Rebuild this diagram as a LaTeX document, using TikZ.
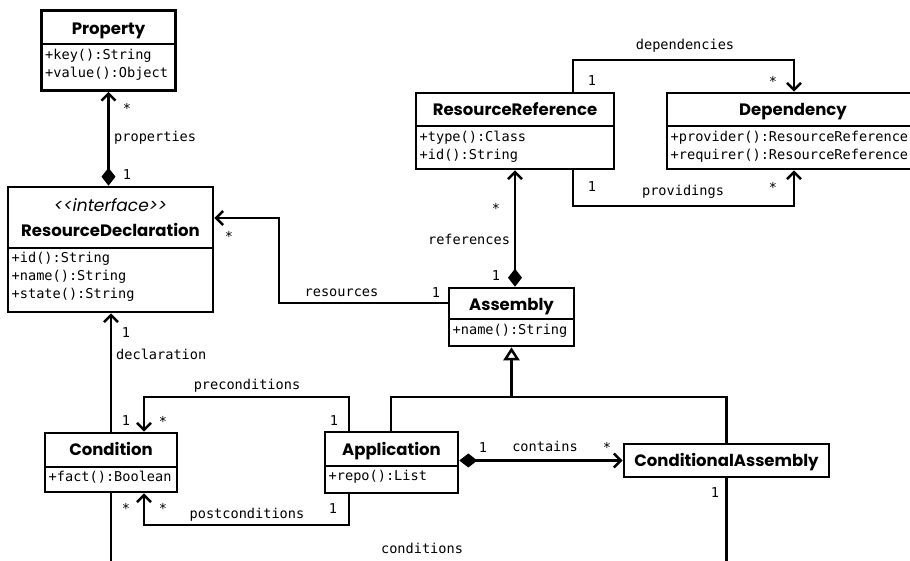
\documentclass[tikz,border=0pt]{standalone}
\usepackage{fontspec}
\usetikzlibrary{arrows.meta}
\newfontfamily\titlefont{Poppins}
\newfontfamily\codefont{DejaVu Sans Mono}
\tikzset{
  umlbox/.style={draw, line width=2.6pt, rectangle, inner sep=0pt, fill=white},
  divline/.style={line width=2pt},
  conn/.style={line width=2.5pt, line join=miter},
  ttl/.style={font=\titlefont\bfseries\fontsize{16.5}{18}\selectfont, anchor=base, inner sep=0pt},
  stereo/.style={font=\titlefont\itshape\fontsize{17}{19}\selectfont, anchor=base, inner sep=0pt},
  attr/.style={font=\codefont\fontsize{13.6}{16}\selectfont, anchor=base west, inner sep=0pt},
  lbl/.style={font=\codefont\fontsize{13.6}{16}\selectfont, anchor=base, inner sep=0pt},
  barb/.tip={Straight Barb[length=7pt,width=14pt]},
  dmd/.tip={Diamond[length=18pt,width=14pt]},
  gen/.tip={Triangle[open,length=13pt,width=16pt]}
}
\begin{document}
\begin{tikzpicture}[x=1pt,y=-1pt]
\useasboundingbox (0,0) rectangle (910,560);
\clip (0,0) rectangle (910,560);

% ---- boxes ----
\node[umlbox, minimum width=134pt, minimum height=80pt] (prop) at (108.5,50.5) {};
\node[umlbox, minimum width=205pt, minimum height=125pt] (rd) at (110.5,249.5) {};
\node[umlbox, minimum width=198pt, minimum height=76pt] (rr) at (515,131) {};
\node[umlbox, minimum width=252pt, minimum height=76pt] (dep) at (793,131) {};
\node[umlbox, minimum width=125pt, minimum height=58pt] (asm) at (511.5,317) {};
\node[umlbox, minimum width=132pt, minimum height=59pt] (cond) at (111,462.5) {};
\node[umlbox, minimum width=133pt, minimum height=61pt] (app) at (391.5,462.5) {};
\node[umlbox, minimum width=205pt, minimum height=33pt] (ca) at (726.5,460.5) {};

% ---- dividers ----
\draw[divline] (41.5,44) -- (175.5,44);
\draw[divline] (8,248) -- (213,248);
\draw[divline] (416,126) -- (614,126);
\draw[divline] (667,126) -- (919,126);
\draw[divline] (449,319) -- (574,319);
\draw[divline] (45,467) -- (177,467);
\draw[divline] (325,466) -- (458,466);

% ---- titles ----
\node[ttl] (propT) at (108.5,34) {Property};
\node[stereo] (rdS) at (110.5,211) {<<interface>>};
\node[ttl] (rdT) at (110.5,236) {ResourceDeclaration};
\node[ttl] (rrT) at (515,115) {ResourceReference};
\node[ttl] (depT) at (793,115) {Dependency};
\node[ttl] (asmT) at (511.5,310) {Assembly};
\node[ttl] (condT) at (111,455) {Condition};
\node[ttl] (appT) at (391.5,455) {Application};
\node[ttl] (caT) at (726.5,466) {ConditionalAssembly};

% ---- attributes ----
\node[attr] (propA1) at (45,59) {+key():String};
\node[attr] (propA2) at (45,77) {+value():Object};
\node[attr] (rdA1) at (11.5,262.5) {+id():String};
\node[attr] (rdA2) at (11.5,280.5) {+name():String};
\node[attr] (rdA3) at (11.5,298.5) {+state():String};
\node[attr] (rrA1) at (419.5,141) {+type():Class};
\node[attr] (rrA2) at (419.5,159) {+id():String};
\node[attr] (depA1) at (670.5,141) {+provider():ResourceReference};
\node[attr] (depA2) at (670.5,159) {+requirer():ResourceReference};
\node[attr] (asmA1) at (452.5,334) {+name():String};
\node[attr] (condA1) at (48.5,481) {+fact():Boolean};
\node[attr] (appA1) at (328.5,480) {+repo():List};

% ---- bend points ----
\coordinate (d1) at (573,60);  \coordinate (d2) at (794,60);
\coordinate (v1) at (573,206); \coordinate (v2) at (794,206);
\coordinate (r1) at (279,303); \coordinate (r2) at (279,218);
\coordinate (dx) at (111,0);
\coordinate (p1) at (349,397); \coordinate (p2) at (144,397);
\coordinate (q1) at (349,525); \coordinate (q2) at (144,525);
\coordinate (g1) at (391,397); \coordinate (g2) at (726.5,397);
\coordinate (gm) at (511.5,397);
\coordinate (c1) at (111,590); \coordinate (c2) at (726.5,590);

% ---- connectors ----
\draw[conn, barb-dmd] (prop.south) -- (rd.north -| prop.south);
\draw[conn, -barb] (asm.west |- r1) -- (r1) -- (r2) -- (rd.east |- r2);
\draw[conn, dmd-barb] (asm.north -| rr.south) -- (rr.south);
\draw[conn, -barb] (rr.north -| d1) -- (d1) -- (d2) -- (dep.north -| d2);
\draw[conn, -barb] (rr.south -| v1) -- (v1) -- (v2) -- (dep.south -| v2);
\draw[conn, -barb] (cond.north -| dx) -- (rd.south -| dx);
\draw[conn, -barb] (app.north -| p1) -- (p1) -- (p2) -- (cond.north -| p2);
\draw[conn, -barb] (app.south -| q1) -- (q1) -- (q2) -- (cond.south -| q2);
\draw[conn] (app.north -| g1) -- (g1) -- (g2) -- (ca.north -| g2);
\draw[conn, -gen] (gm) -- (gm |- asm.south);
\draw[conn, dmd-barb] (app.east |- ca.west) -- (ca.west);
\draw[conn] (cond.south -| c1) -- (c1) -- (c2) -- (ca.south -| c2);

% ---- labels ----
\node[lbl] (l1) at (127,113) {*};
\node[lbl, anchor=base west] (l2) at (114,141) {properties};
\node[lbl] (l3) at (127,179) {1};
\node[lbl] (l4) at (229,241) {*};
\node[lbl] (l5) at (341.5,296) {resources};
\node[lbl] (l6) at (436,297) {1};
\node[lbl] (l7) at (496,213) {*};
\node[lbl] (l8) at (469,244) {references};
\node[lbl] (l9) at (496,280) {1};
\node[lbl] (l10) at (685,49) {dependencies};
\node[lbl] (l11) at (592,85) {1};
\node[lbl] (l12) at (773,86) {*};
\node[lbl] (l13) at (592,191) {1};
\node[lbl] (l14) at (773,192) {*};
\node[lbl] (l15) at (683,195) {providings};
\node[lbl] (l16) at (126,337) {1};
\node[lbl, anchor=base west] (l17) at (116,359) {declaration};
\node[lbl] (l18) at (247,389) {preconditions};
\node[lbl] (l19) at (126,425) {1};
\node[lbl] (l20) at (163,426) {*};
\node[lbl] (l21) at (334,425) {1};
\node[lbl] (l22) at (126,513) {*};
\node[lbl] (l23) at (163,513) {*};
\node[lbl] (l24) at (247,518) {postconditions};
\node[lbl] (l25) at (333,513) {1};
\node[lbl] (l26) at (545,451) {contains};
\node[lbl] (l27) at (483,452) {1};
\node[lbl] (l28) at (607,452) {*};
\node[lbl] (l29) at (715,497) {1};
\node[lbl] (l30) at (422,553) {conditions};
\end{tikzpicture}
\end{document}
